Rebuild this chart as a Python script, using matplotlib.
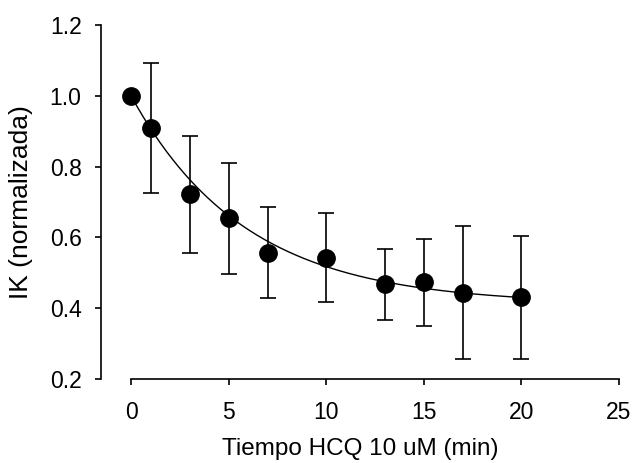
import numpy as np
import matplotlib.pyplot as plt

plt.rcParams['font.family'] = ['Liberation Sans', 'DejaVu Sans']

# Datos
tiempo = [0, 1, 3, 5, 7, 10, 13, 15, 17, 20]
ik = [1.0, 0.909, 0.722, 0.655, 0.557, 0.543, 0.468, 0.475, 0.442, 0.431]
err_sup = [1.0, 1.093, 0.886, 0.81, 0.685, 0.669, 0.566, 0.596, 0.631, 0.605]
err_inf = [1.0, 0.725, 0.557, 0.497, 0.43, 0.417, 0.367, 0.351, 0.256, 0.256]

# Parámetros del ajuste exponencial y = a + b*exp(-k t)
a_fit = 0.411
b_fit = 0.589
k_fit = 0.171

ik = np.array(ik)
yerr = [ik - np.array(err_inf), np.array(err_sup) - ik]

t_fit = np.linspace(0, 20, 200)
y_fit = a_fit + b_fit * np.exp(-k_fit * t_fit)

fig = plt.figure(figsize=(6.35, 4.63), dpi=100)
ax = fig.add_axes([101 / 635, (463 - 379) / 463, (619 - 101) / 635, (379 - 25) / 463])

ax.plot(t_fit, y_fit, color='black', lw=1.0)
ax.errorbar(tiempo, ik, yerr=yerr, fmt='o', color='black', ms=12.5,
            ecolor='black', elinewidth=1.2, capsize=5.5, capthick=1.2)

ax.set_xlim(-1.54, 25)
ax.set_ylim(0.2, 1.2)
ax.set_xticks([0, 5, 10, 15, 20, 25])
ax.set_yticks([0.2, 0.4, 0.6, 0.8, 1.0, 1.2])
ax.set_yticklabels(['0.2', '0.4', '0.6', '0.8', '1.0', '1.2'])

ax.spines['top'].set_visible(False)
ax.spines['right'].set_visible(False)
ax.spines['bottom'].set_bounds(0, 25)
for s in ['left', 'bottom']:
    ax.spines[s].set_linewidth(1.2)
ax.tick_params(direction='out', length=4, width=1.2, labelsize=16.5)
ax.tick_params(axis='y', pad=10)
ax.tick_params(axis='x', pad=12)

ax.set_xlabel('Tiempo HCQ 10 uM (min)', fontsize=17.5, labelpad=10)
ax.set_ylabel('IK (normalizada)', fontsize=19, labelpad=12)

plt.savefig('out.png', dpi=100)
